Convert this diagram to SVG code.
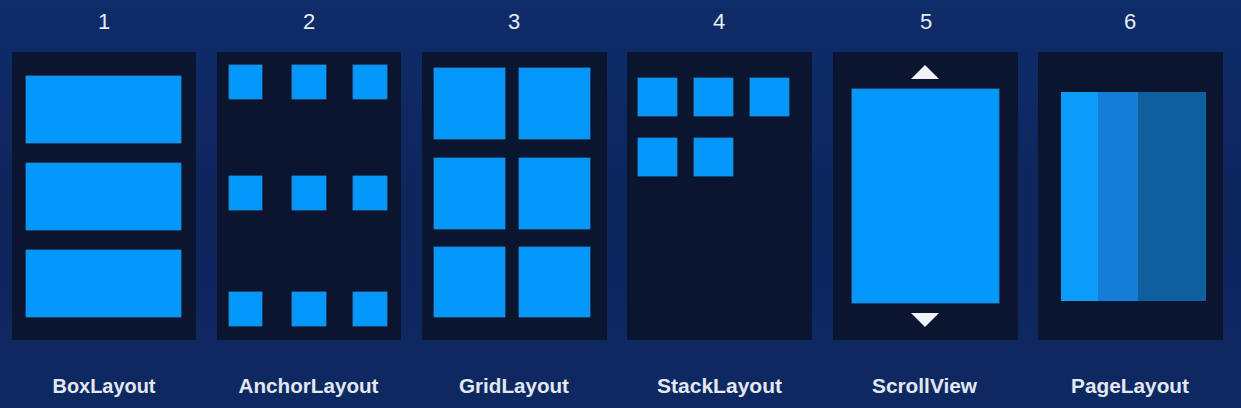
<svg xmlns="http://www.w3.org/2000/svg" width="1241" height="408" viewBox="0 0 1241 408">
  <defs>
    <linearGradient id="bg" x1="0" y1="0" x2="0" y2="1">
      <stop offset="0" stop-color="#0f2c6a"/>
      <stop offset="0.5" stop-color="#0d265c"/>
      <stop offset="1" stop-color="#0e2962"/>
    </linearGradient>
    <style>
      .panel { fill: #0a1630; }
      .blk { fill: #0399fc; stroke: #2a88d0; stroke-width: 0.8; }
      .num { font-family: "Liberation Sans", Arial, sans-serif; font-size: 22px; fill: #e6ecf5; text-anchor: middle; }
      .lbl { font-family: "Liberation Sans", Arial, sans-serif; font-size: 21px; font-weight: bold; fill: #e3e8f0; text-anchor: middle; }
      .tri { fill: #f2f4f7; }
    </style>
  </defs>
  <rect x="0" y="0" width="1241" height="408" fill="url(#bg)"/>

  <g id="box-layout">
    <text class="num" x="104" y="29">1</text>
    <rect class="panel" x="12" y="52" width="184" height="288"/>
    <rect class="blk" x="26" y="76" width="155" height="67"/>
    <rect class="blk" x="26" y="163" width="155" height="67"/>
    <rect class="blk" x="26" y="250" width="155" height="67"/>
    <text class="lbl" x="104" y="393" textLength="103" lengthAdjust="spacingAndGlyphs">BoxLayout</text>
  </g>

  <g id="anchor-layout">
    <text class="num" x="309" y="29">2</text>
    <rect class="panel" x="217" y="52" width="184" height="288"/>
    <rect class="blk" x="229" y="65" width="33" height="34"/>
    <rect class="blk" x="292" y="65" width="34" height="34"/>
    <rect class="blk" x="353" y="65" width="34" height="34"/>
    <rect class="blk" x="229" y="176" width="33" height="34"/>
    <rect class="blk" x="292" y="176" width="34" height="34"/>
    <rect class="blk" x="353" y="176" width="34" height="34"/>
    <rect class="blk" x="229" y="292" width="33" height="34"/>
    <rect class="blk" x="292" y="292" width="34" height="34"/>
    <rect class="blk" x="353" y="292" width="34" height="34"/>
    <text class="lbl" x="308.5" y="393" textLength="140" lengthAdjust="spacingAndGlyphs">AnchorLayout</text>
  </g>

  <g id="grid-layout">
    <text class="num" x="514" y="29">3</text>
    <rect class="panel" x="422" y="52" width="185" height="288"/>
    <rect class="blk" x="434" y="68" width="71" height="71"/>
    <rect class="blk" x="519" y="68" width="71" height="71"/>
    <rect class="blk" x="434" y="158" width="71" height="71"/>
    <rect class="blk" x="519" y="158" width="71" height="71"/>
    <rect class="blk" x="434" y="247" width="71" height="70"/>
    <rect class="blk" x="519" y="247" width="71" height="70"/>
    <text class="lbl" x="514" y="393" textLength="110" lengthAdjust="spacingAndGlyphs">GridLayout</text>
  </g>

  <g id="stack-layout">
    <text class="num" x="719" y="29">4</text>
    <rect class="panel" x="627" y="52" width="185" height="288"/>
    <rect class="blk" x="638" y="78" width="39" height="38"/>
    <rect class="blk" x="694" y="78" width="39" height="38"/>
    <rect class="blk" x="750" y="78" width="39" height="38"/>
    <rect class="blk" x="638" y="138" width="39" height="38"/>
    <rect class="blk" x="694" y="138" width="39" height="38"/>
    <text class="lbl" x="719.5" y="393" textLength="125" lengthAdjust="spacingAndGlyphs">StackLayout</text>
  </g>

  <g id="scroll-view">
    <text class="num" x="926" y="29">5</text>
    <rect class="panel" x="833" y="52" width="185" height="288"/>
    <rect class="blk" x="852" y="89" width="147" height="214"/>
    <polygon class="tri" points="925,65 939,79 911,79"/>
    <polygon class="tri" points="911,313 939,313 925,327"/>
    <text class="lbl" x="924.5" y="393" textLength="105" lengthAdjust="spacingAndGlyphs">ScrollView</text>
  </g>

  <g id="page-layout">
    <text class="num" x="1130" y="29">6</text>
    <rect class="panel" x="1038" y="52" width="185" height="288"/>
    <rect x="1061" y="92" width="37" height="209" fill="#0a9cf8"/>
    <rect x="1098" y="92" width="40" height="209" fill="#167dd6"/>
    <rect x="1138" y="92" width="68" height="209" fill="#0f5e9e"/>
    <text class="lbl" x="1130" y="393" textLength="118" lengthAdjust="spacingAndGlyphs">PageLayout</text>
  </g>

  <g id="connectors"></g>
</svg>
